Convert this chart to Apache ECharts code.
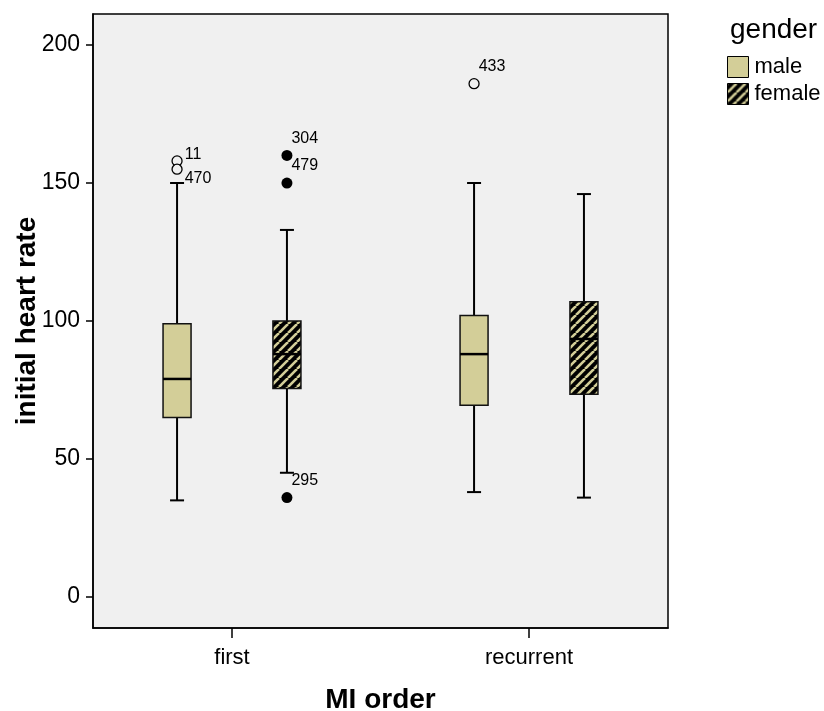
<!DOCTYPE html>
<html>
<head>
<meta charset="utf-8">
<script src="https://cdn.jsdelivr.net/npm/echarts@6/dist/echarts.min.js"></script>
<style>html,body{margin:0;padding:0;background:#fff}#c{width:824px;height:711px}</style>
</head>
<body>
<div id="c"></div>
<script>
// ---- data ----
const categories = ['first', 'recurrent'];
const seriesNames = ['male', 'female'];
// [low whisker, Q1, median, Q3, high whisker]
const maleBox = [[35, 65, 79, 99, 150], [38, 69.5, 88, 102, 150]];
const femaleBox = [[45, 75.5, 88, 100, 133], [36, 73.5, 93.5, 107, 146]];
// [category index, value, case id]
const maleOutliers = [[0, 158, '11'], [0, 155, '470'], [1, 186, '433']];
const femaleOutliers = [[0, 160, '304'], [0, 150, '479'], [0, 36, '295']];
const yTicks = [0, 50, 100, 150, 200];

// ---- styling ----
const TAN = '#d3ce98';
const FONT = '"Liberation Sans", Arial, sans-serif';
const OFFSET = 0.185;
const BOX_W = 0.0943;

function makeHatch() {
  const s = 9;
  const cv = document.createElement('canvas');
  cv.width = s; cv.height = s;
  const ctx = cv.getContext('2d');
  ctx.fillStyle = '#000';
  ctx.fillRect(0, 0, s, s);
  ctx.strokeStyle = TAN;
  ctx.lineWidth = 2.6;
  for (const o of [-s, 0, s]) {
    ctx.beginPath();
    ctx.moveTo(o, s);
    ctx.lineTo(o + s, 0);
    ctx.stroke();
  }
  return { image: cv, repeat: 'repeat' };
}
const HATCH = makeHatch();

function boxRender(off, fill) {
  return function (params, api) {
    const x = api.value(0) + off;
    const low = api.coord([x, api.value(1)]);
    const q1 = api.coord([x, api.value(2)]);
    const med = api.coord([x, api.value(3)]);
    const q3 = api.coord([x, api.value(4)]);
    const high = api.coord([x, api.value(5)]);
    const w = api.size([BOX_W, 0])[0];
    const cw = w / 2;
    const cx = low[0];
    const line = { stroke: '#000', lineWidth: 2 };
    return {
      type: 'group',
      children: [
        { type: 'line', shape: { x1: cx, y1: low[1], x2: cx, y2: q1[1] }, style: line },
        { type: 'line', shape: { x1: cx, y1: q3[1], x2: cx, y2: high[1] }, style: line },
        { type: 'line', shape: { x1: cx - cw / 2, y1: low[1], x2: cx + cw / 2, y2: low[1] }, style: line },
        { type: 'line', shape: { x1: cx - cw / 2, y1: high[1], x2: cx + cw / 2, y2: high[1] }, style: line },
        { type: 'rect', shape: { x: cx - w / 2, y: q3[1], width: w, height: q1[1] - q3[1] },
          style: { fill: fill, stroke: '#111', lineWidth: 1.5 } },
        { type: 'line', shape: { x1: cx - w / 2, y1: med[1], x2: cx + w / 2, y2: med[1] },
          style: { stroke: '#000', lineWidth: 2.5 } }
      ]
    };
  };
}

function boxData(arr) {
  return arr.map((v, i) => [i].concat(v));
}

const labelOverrides = {
  '11': { position: 'right', distance: 0, offset: [2, -6] },
  '470': { position: 'right', distance: 0, offset: [2, 9] }
};
function outlierData(arr, off) {
  return arr.map(d => {
    const item = { name: d[2], value: [d[0] + off, d[1]] };
    if (labelOverrides[d[2]]) item.label = labelOverrides[d[2]];
    return item;
  });
}

const chart = echarts.init(document.getElementById('c'), null, { renderer: 'canvas' });
chart.setOption({
  animation: false,
  backgroundColor: '#fff',
  textStyle: { fontFamily: FONT },
  title: {
    text: 'gender', left: 730, top: 16, padding: 0,
    textStyle: { fontFamily: FONT, fontSize: 28, fontWeight: 'normal', color: '#000' }
  },
  legend: {
    orient: 'vertical', left: 727, top: 56, padding: 0,
    itemWidth: 21, itemHeight: 21, itemGap: 5,
    icon: 'rect',
    textStyle: { fontFamily: FONT, fontSize: 22, color: '#000', padding: [0, 0, 0, 1] },
    data: [
      { name: seriesNames[0], itemStyle: { color: TAN, borderColor: '#000', borderWidth: 1 } },
      { name: seriesNames[1], itemStyle: { color: HATCH, borderColor: '#000', borderWidth: 1 } }
    ]
  },
  grid: {
    left: 93, top: 14, width: 575, height: 614,
    outerBoundsMode: 'none', containLabel: false,
    show: true, backgroundColor: '#f0f0f0', borderColor: '#000', borderWidth: 1.5
  },
  xAxis: {
    type: 'value', min: -0.468, max: 1.468,
    name: 'MI order', nameLocation: 'middle', nameGap: 58, nameMoveOverlap: false,
    nameTextStyle: { fontFamily: FONT, fontSize: 28, fontWeight: 'bold', color: '#000' },
    axisLine: { show: true, onZero: false, lineStyle: { color: '#000', width: 1.5 } },
    axisTick: { show: true, length: 10, lineStyle: { color: '#000', width: 1.5 }, customValues: [0, 1] },
    axisLabel: {
      customValues: [0, 1], margin: 19,
      fontFamily: FONT, fontSize: 22, color: '#000',
      formatter: v => categories[Math.round(v)]
    },
    splitLine: { show: false }
  },
  yAxis: {
    type: 'value', min: -11.25, max: 211.25,
    name: 'initial heart rate', nameLocation: 'middle', nameGap: 52, nameMoveOverlap: false,
    nameTextStyle: { fontFamily: FONT, fontSize: 28, fontWeight: 'bold', color: '#000' },
    axisLine: { show: true, onZero: false, lineStyle: { color: '#000', width: 1.5 } },
    axisTick: { show: true, length: 7, lineStyle: { color: '#000', width: 1.5 }, customValues: yTicks },
    axisLabel: { customValues: yTicks, margin: 13, fontFamily: FONT, fontSize: 23, color: '#000' },
    splitLine: { show: false }
  },
  series: [
    {
      name: seriesNames[0], type: 'custom',
      itemStyle: { color: TAN, borderColor: '#000', borderWidth: 1 },
      renderItem: boxRender(-OFFSET, TAN),
      encode: { x: 0, y: [1, 2, 3, 4, 5] },
      data: boxData(maleBox), z: 2
    },
    {
      name: seriesNames[1], type: 'custom',
      itemStyle: { color: HATCH, borderColor: '#000', borderWidth: 1 },
      renderItem: boxRender(OFFSET, HATCH),
      encode: { x: 0, y: [1, 2, 3, 4, 5] },
      data: boxData(femaleBox), z: 2
    },
    {
      name: 'male outliers', type: 'scatter', symbol: 'circle', symbolSize: 10,
      itemStyle: { color: '#f0f0f0', borderColor: '#000', borderWidth: 1.3, opacity: 1 },
      label: { show: true, formatter: p => p.name, position: 'right', distance: 0, offset: [-1, -17],
        fontFamily: FONT, fontSize: 16, color: '#000' },
      data: outlierData(maleOutliers, -OFFSET), z: 3
    },
    {
      name: 'female outliers', type: 'scatter', symbol: 'circle', symbolSize: 11,
      itemStyle: { color: '#000', opacity: 1 },
      label: { show: true, formatter: p => p.name, position: 'right', distance: 0, offset: [-1, -17],
        fontFamily: FONT, fontSize: 16, color: '#000' },
      data: outlierData(femaleOutliers, OFFSET), z: 3
    }
  ]
});
</script>
</body>
</html>
